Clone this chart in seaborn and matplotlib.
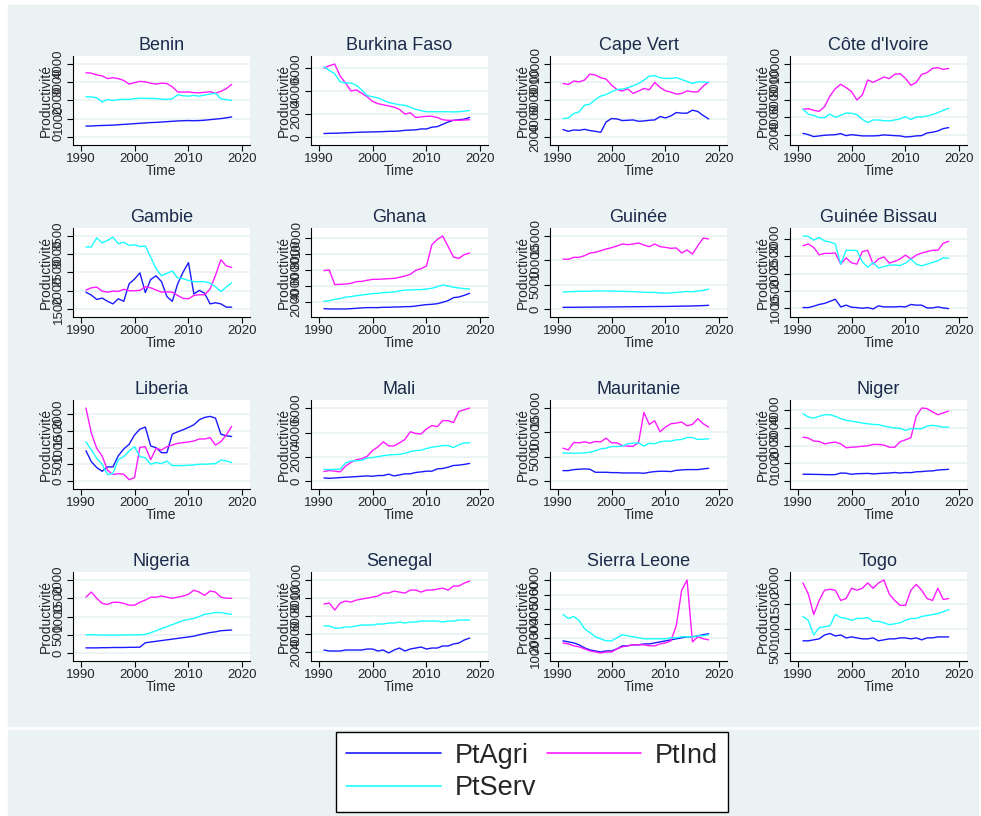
import matplotlib
matplotlib.use("Agg")
import matplotlib.pyplot as plt
from matplotlib.lines import Line2D
from matplotlib.patches import Rectangle
import seaborn as sns
import pandas as pd

# years covered by every series
years = list(range(1991, 2019))

countries = ["Benin", "Burkina Faso", "Cape Vert", "Côte d'Ivoire",
             "Gambie", "Ghana", "Guinée", "Guinée Bissau",
             "Liberia", "Mali", "Mauritanie", "Niger",
             "Nigeria", "Senegal", "Sierra Leone", "Togo"]

# productivity per sector
benin_agri = [600, 600, 620, 630, 640, 650, 670, 690, 710, 730, 750, 770, 790, 800, 820, 840, 860, 880, 890, 900, 890, 900, 920, 950, 980, 1010, 1050, 1100]
benin_ind = [3520, 3500, 3400, 3350, 3200, 3250, 3200, 3100, 2900, 2980, 3050, 3020, 2950, 2900, 2950, 2930, 2750, 2470, 2460, 2470, 2430, 2420, 2450, 2480, 2400, 2500, 2650, 2880]
benin_serv = [2200, 2200, 2150, 1920, 2050, 2000, 2050, 2060, 2060, 2100, 2130, 2120, 2110, 2110, 2080, 2060, 2100, 2310, 2260, 2240, 2280, 2240, 2300, 2350, 2400, 2100, 2050, 2000]
benin_ticks = [0, 1000, 2000, 3000, 4000]

burkina_agri = [300, 320, 330, 340, 360, 380, 400, 420, 430, 440, 450, 470, 490, 500, 520, 580, 600, 620, 700, 700, 850, 900, 1100, 1300, 1450, 1500, 1550, 1700]
burkina_ind = [6000, 6200, 6350, 5300, 4700, 4000, 4100, 3800, 3500, 3100, 2900, 2800, 2700, 2600, 2400, 2000, 2100, 1700, 1750, 1800, 1800, 1700, 1500, 1450, 1450, 1450, 1480, 1500]
burkina_serv = [6100, 5800, 5500, 4800, 4700, 4700, 4500, 4100, 3600, 3500, 3400, 3200, 3000, 2900, 2800, 2750, 2600, 2400, 2300, 2200, 2200, 2200, 2200, 2200, 2180, 2200, 2250, 2300]
burkina_ticks = [0, 2000, 4000, 6000]

cape_agri = [2810, 2620, 2770, 2730, 2840, 2700, 2620, 2510, 3650, 4020, 3980, 3800, 3830, 3870, 3720, 3760, 3830, 3870, 4240, 4090, 4310, 4680, 4610, 4610, 4940, 4790, 4350, 3980]
cape_ind = [7870, 7760, 8130, 8050, 8240, 8900, 8790, 8500, 8350, 7690, 7210, 7030, 7280, 6770, 7030, 7320, 7170, 7980, 7430, 7060, 6920, 6700, 6770, 7060, 6950, 6950, 7580, 8020]
cape_serv = [4020, 4090, 4570, 4750, 5490, 5600, 6110, 6480, 6660, 6950, 7210, 7250, 7390, 7610, 7870, 8240, 8680, 8720, 8500, 8420, 8420, 8500, 8310, 8090, 7870, 8050, 8020, 7980]
cape_ticks = [2000, 4000, 6000, 8000, 10000]

civ_agri = [2220, 2070, 1850, 1930, 2000, 2040, 2070, 2190, 1960, 2070, 2000, 1930, 1930, 1930, 1960, 2040, 2000, 1960, 1930, 1810, 1850, 1930, 1960, 2260, 2340, 2490, 2750, 2860]
civ_ind = [4920, 4990, 4800, 4690, 5210, 6410, 7230, 7720, 7350, 6900, 5960, 6520, 8210, 7940, 8240, 8540, 8360, 8840, 8920, 8390, 7610, 7940, 8840, 9030, 9510, 9590, 9400, 9510]
civ_serv = [4920, 4360, 4240, 3980, 3980, 4390, 4020, 4240, 4500, 4470, 4320, 3790, 3420, 3720, 3720, 3640, 3610, 3720, 3830, 4090, 3760, 4060, 4060, 4170, 4320, 4540, 4800, 5030]
civ_ticks = [2000, 4000, 6000, 8000, 10000]

gambie_agri = [1960, 1880, 1760, 1800, 1710, 1640, 1780, 1710, 2190, 2320, 2490, 1950, 2310, 2410, 2250, 1840, 1710, 2190, 2510, 2770, 1910, 2010, 1930, 1640, 1670, 1640, 1550, 1550]
gambie_ind = [2020, 2080, 2100, 1990, 1960, 1990, 1980, 2040, 2000, 2000, 2010, 2110, 2080, 2020, 1960, 1970, 1960, 1870, 1790, 1780, 1870, 1890, 1890, 2050, 2420, 2850, 2680, 2640]
gambie_serv = [3200, 3200, 3450, 3310, 3380, 3470, 3290, 3330, 3240, 3260, 3210, 3230, 2920, 2600, 2410, 2480, 2540, 2350, 2330, 2280, 2250, 2250, 2250, 2210, 2110, 1980, 2100, 2220]
gambie_ticks = [1500, 2000, 2500, 3000, 3500]

ghana_agri = [1210, 1170, 1170, 1170, 1170, 1210, 1250, 1300, 1340, 1340, 1340, 1380, 1380, 1420, 1420, 1460, 1460, 1540, 1630, 1710, 1750, 1830, 2000, 2210, 2580, 2660, 2870, 3120]
ghana_ind = [5940, 6020, 4200, 4240, 4280, 4360, 4570, 4610, 4740, 4860, 4860, 4900, 4940, 4980, 5110, 5270, 5480, 5980, 6190, 6520, 9170, 9830, 10250, 8960, 7640, 7470, 7930, 8130]
ghana_serv = [2120, 2210, 2370, 2460, 2660, 2700, 2830, 2910, 2990, 3080, 3120, 3200, 3240, 3290, 3410, 3530, 3530, 3580, 3580, 3660, 3740, 3950, 4160, 4030, 3870, 3780, 3700, 3660]
ghana_ticks = [2000, 4000, 6000, 8000, 10000]

guinee_agri = [340, 340, 350, 360, 370, 380, 390, 400, 410, 420, 430, 440, 450, 460, 470, 480, 490, 500, 510, 520, 540, 560, 580, 600, 620, 650, 700, 750]
guinee_ind = [10270, 10200, 10620, 10620, 10960, 11510, 11650, 11990, 12330, 12600, 12950, 13360, 13220, 13360, 13560, 13150, 12810, 13360, 12810, 12670, 12470, 12540, 11510, 12120, 11300, 13020, 14590, 14390]
guinee_serv = [3490, 3560, 3600, 3630, 3640, 3660, 3680, 3700, 3700, 3680, 3650, 3620, 3600, 3560, 3500, 3450, 3400, 3400, 3300, 3250, 3300, 3400, 3500, 3600, 3550, 3700, 3800, 4100]
guinee_ticks = [0, 5000, 10000, 15000]

bissau_agri = [1020, 1020, 1060, 1110, 1140, 1200, 1260, 1040, 1090, 1030, 1020, 1000, 1020, 980, 1070, 1040, 1040, 1040, 1050, 1040, 1110, 1090, 1090, 1010, 1010, 1040, 1010, 990]
bissau_ind = [2800, 2850, 2750, 2540, 2580, 2580, 2590, 2270, 2450, 2310, 2270, 2630, 2670, 2270, 2420, 2480, 2300, 2350, 2420, 2530, 2420, 2530, 2590, 2630, 2670, 2670, 2870, 2930]
bissau_serv = [3080, 3070, 2960, 3040, 2940, 2910, 2850, 2270, 2670, 2670, 2660, 2340, 2180, 2320, 2160, 2200, 2240, 2250, 2230, 2300, 2420, 2270, 2220, 2270, 2320, 2370, 2450, 2440]
bissau_ticks = [1000, 1500, 2000, 2500, 3000]

liberia_agri = [905, 575, 400, 290, 420, 420, 755, 955, 1095, 1375, 1550, 1610, 1045, 995, 845, 845, 1400, 1470, 1530, 1600, 1680, 1830, 1900, 1930, 1880, 1400, 1350, 1330]
liberia_ind = [2180, 1430, 975, 745, 320, 190, 220, 200, 40, 100, 1005, 1025, 640, 975, 925, 1025, 1075, 1125, 1145, 1165, 1195, 1255, 1255, 1295, 1075, 1175, 1375, 1630]
liberia_serv = [1175, 925, 675, 500, 190, 220, 640, 725, 895, 1025, 725, 695, 500, 550, 520, 595, 460, 460, 460, 470, 480, 500, 500, 510, 520, 625, 600, 550]
liberia_ticks = [0, 500, 1000, 1500, 2000]

mali_agri = [250, 220, 250, 280, 310, 330, 360, 390, 420, 390, 450, 450, 560, 420, 500, 590, 590, 700, 750, 810, 810, 1000, 1030, 1140, 1280, 1310, 1370, 1450]
mali_ind = [780, 865, 810, 750, 1230, 1530, 1760, 1840, 2040, 2510, 2820, 3240, 2900, 2900, 3150, 3430, 4070, 3930, 3880, 4300, 4580, 4490, 4990, 4990, 4830, 5750, 5890, 6030]
mali_serv = [950, 950, 950, 980, 1480, 1650, 1670, 1700, 1900, 1930, 2010, 2090, 2150, 2180, 2200, 2290, 2430, 2510, 2540, 2680, 2790, 2850, 2930, 2930, 2760, 2990, 3150, 3150]
mali_ticks = [0, 2000, 4000, 6000]

maur_agri = [2130, 2130, 2340, 2410, 2480, 2410, 1790, 1790, 1790, 1720, 1720, 1650, 1650, 1650, 1650, 1580, 1790, 1930, 2000, 2000, 1930, 2200, 2270, 2340, 2340, 2340, 2480, 2610]
maur_ind = [6740, 6400, 7910, 7840, 8050, 7770, 8120, 8050, 8810, 7840, 7840, 7290, 7160, 7160, 7840, 14100, 11630, 12380, 10110, 11080, 11760, 11900, 12110, 11350, 11630, 12800, 11760, 11080]
maur_serv = [5780, 5710, 5710, 5710, 5780, 5920, 6190, 6600, 6740, 7090, 7090, 7160, 7640, 7770, 7840, 7160, 7770, 7640, 8050, 8190, 8190, 8460, 8530, 8940, 8940, 8530, 8600, 8670]
maur_ticks = [0, 5000, 10000, 15000]

niger_agri = [380, 380, 375, 370, 360, 355, 360, 450, 440, 380, 410, 420, 430, 400, 420, 440, 450, 480, 450, 480, 470, 520, 530, 560, 570, 620, 640, 660]
niger_ind = [2480, 2430, 2260, 2240, 2100, 2160, 2200, 2100, 1880, 1910, 1930, 1970, 1990, 2070, 2070, 2030, 1910, 1910, 2220, 2330, 2450, 3680, 4130, 4100, 3910, 3750, 3850, 3960]
niger_serv = [3810, 3620, 3560, 3660, 3750, 3750, 3660, 3530, 3430, 3390, 3340, 3280, 3240, 3200, 3190, 3110, 3050, 3000, 2980, 2860, 2960, 2960, 2960, 3110, 3150, 3110, 3050, 3050]
niger_ticks = [0, 1000, 2000, 3000, 4000]

nigeria_agri = [140, 140, 140, 145, 145, 150, 150, 150, 155, 155, 160, 280, 300, 320, 340, 360, 380, 400, 420, 440, 460, 500, 530, 560, 580, 610, 620, 630]
nigeria_ind = [1530, 1670, 1500, 1360, 1330, 1390, 1390, 1360, 1310, 1310, 1390, 1450, 1530, 1530, 1560, 1530, 1500, 1530, 1560, 1610, 1720, 1670, 1580, 1700, 1670, 1530, 1500, 1500]
nigeria_serv = [500, 500, 495, 490, 490, 490, 490, 495, 495, 500, 500, 510, 556, 610, 670, 720, 780, 830, 890, 920, 945, 1000, 1060, 1080, 1110, 1110, 1080, 1060]
nigeria_ticks = [0, 500, 1000, 1500, 2000]

senegal_agri = [2220, 2110, 2110, 2110, 2220, 2220, 2220, 2220, 2330, 2330, 2110, 2220, 1890, 2220, 2440, 2110, 2330, 2440, 2550, 2330, 2440, 2440, 2670, 2670, 2890, 3000, 3330, 3550]
senegal_ind = [7330, 7440, 6660, 7440, 7660, 7550, 7770, 7880, 7990, 8100, 8220, 8550, 8550, 8770, 8660, 8550, 8880, 8880, 8660, 8880, 8880, 8990, 9100, 8880, 9330, 9330, 9660, 9880]
senegal_serv = [4890, 4890, 4660, 4660, 4780, 4780, 4890, 5000, 5000, 5000, 5110, 5110, 5220, 5220, 5330, 5220, 5330, 5330, 5440, 5440, 5440, 5440, 5330, 5440, 5440, 5550, 5550, 5550]
senegal_ticks = [2000, 4000, 6000, 8000, 10000]

sierra_agri = [1830, 1760, 1690, 1560, 1350, 1210, 1140, 1070, 1140, 1140, 1280, 1490, 1490, 1560, 1560, 1620, 1620, 1690, 1760, 1830, 1900, 1970, 2040, 2110, 2110, 2180, 2250, 2320]
sierra_ind = [1690, 1620, 1490, 1420, 1280, 1140, 1070, 1000, 1070, 1070, 1280, 1420, 1490, 1560, 1560, 1560, 1490, 1490, 1620, 1690, 1830, 2870, 5300, 6000, 1760, 2110, 1970, 1900]
sierra_serv = [3640, 3360, 3500, 3220, 2670, 2390, 2110, 1970, 1830, 1830, 2040, 2250, 2180, 2110, 2040, 1970, 1970, 1970, 1970, 1970, 2040, 2040, 2110, 2110, 2110, 2180, 2180, 2250]
sierra_ticks = [1000, 2000, 3000, 4000, 5000, 6000]

togo_agri = [750, 750, 770, 790, 870, 900, 850, 870, 810, 830, 810, 790, 790, 810, 750, 770, 790, 790, 810, 810, 790, 810, 770, 810, 810, 830, 830, 830]
togo_ind = [1940, 1710, 1290, 1580, 1790, 1810, 1790, 1580, 1620, 1830, 1790, 1830, 1940, 1830, 1940, 2000, 1710, 1580, 1480, 1480, 1790, 1910, 1790, 1620, 1580, 1830, 1600, 1620]
togo_serv = [1250, 1170, 870, 1020, 1040, 1060, 1290, 1230, 1210, 1170, 1210, 1210, 1230, 1150, 1150, 1120, 1080, 1100, 1120, 1170, 1210, 1210, 1250, 1270, 1290, 1310, 1350, 1390]
togo_ticks = [500, 1000, 1500, 2000]

panels = [
    (benin_agri, benin_ind, benin_serv, benin_ticks),
    (burkina_agri, burkina_ind, burkina_serv, burkina_ticks),
    (cape_agri, cape_ind, cape_serv, cape_ticks),
    (civ_agri, civ_ind, civ_serv, civ_ticks),
    (gambie_agri, gambie_ind, gambie_serv, gambie_ticks),
    (ghana_agri, ghana_ind, ghana_serv, ghana_ticks),
    (guinee_agri, guinee_ind, guinee_serv, guinee_ticks),
    (bissau_agri, bissau_ind, bissau_serv, bissau_ticks),
    (liberia_agri, liberia_ind, liberia_serv, liberia_ticks),
    (mali_agri, mali_ind, mali_serv, mali_ticks),
    (maur_agri, maur_ind, maur_serv, maur_ticks),
    (niger_agri, niger_ind, niger_serv, niger_ticks),
    (nigeria_agri, nigeria_ind, nigeria_serv, nigeria_ticks),
    (senegal_agri, senegal_ind, senegal_serv, senegal_ticks),
    (sierra_agri, sierra_ind, sierra_serv, sierra_ticks),
    (togo_agri, togo_ind, togo_serv, togo_ticks),
]

colors = {"PtAgri": "#1a1aff", "PtInd": "#ff1aff", "PtServ": "#1affff"}
bg = "#eaf2f3"
title_col = "#1c2a4a"

sns.set_theme(style="white")
plt.rcParams["font.family"] = ["Liberation Sans", "DejaVu Sans"]

W, H = 981, 816
fig = plt.figure(figsize=(W / 100, H / 100), dpi=100)
fig.patch.set_facecolor("white")
# grey graph region + legend region behind everything
fig.patches.append(Rectangle((8 / W, 1 - 726 / H), 970 / W, 721 / H,
                             transform=fig.transFigure, color=bg, zorder=-5))
fig.patches.append(Rectangle((8 / W, 0), 970 / W, (H - 730) / H,
                             transform=fig.transFigure, color=bg, zorder=-5))

lefts = [73, 311, 550, 790]
tops = [56, 228, 400, 572]
pw, ph = 177, 89

for i, (name, (agri, ind, serv, ticks)) in enumerate(zip(countries, panels)):
    r, c = divmod(i, 4)
    ax = fig.add_axes([lefts[c] / W, 1 - (tops[r] + ph) / H, pw / W, ph / H])
    df = pd.DataFrame({"Time": years * 3,
                       "val": agri + ind + serv,
                       "serie": ["PtAgri"] * 28 + ["PtInd"] * 28 + ["PtServ"] * 28})
    ax.set_facecolor("white")
    ax.set_yticks(ticks)
    ax.yaxis.grid(True, color=bg, lw=1.2, zorder=0)
    ax.xaxis.grid(False)
    sns.lineplot(data=df, x="Time", y="val", hue="serie", palette=colors,
                 ax=ax, legend=False, lw=1.0, zorder=3)
    lo = min(ticks[0], min(agri + ind + serv))
    hi = max(ticks[-1], max(agri + ind + serv))
    pad = 0.11 * (hi - lo)
    ax.set_ylim(lo - pad, hi + pad)
    ax.set_xlim(1988.6, 2021.4)
    ax.set_xticks([1990, 2000, 2010, 2020])
    ax.set_yticks(ticks)
    ax.set_yticklabels([str(t) for t in ticks], rotation=90, va="center")
    for s in ["top", "right"]:
        ax.spines[s].set_visible(False)
    for s in ["left", "bottom"]:
        ax.spines[s].set_color("black")
        ax.spines[s].set_linewidth(0.8)
    ax.tick_params(axis="both", direction="out", length=4, width=0.8,
                   color="black", labelsize=9.5, pad=2, left=True, bottom=True)
    ax.set_title(name, fontsize=13, color=title_col, pad=4)
    ax.set_xlabel("Time", fontsize=10, labelpad=-1)
    ax.set_ylabel("Productivité", fontsize=10, labelpad=0)

handles = [Line2D([], [], color=colors[k], lw=1.2) for k in ["PtAgri", "PtServ", "PtInd"]]
leg = fig.legend(handles, ["PtAgri", "PtServ", "PtInd"], ncol=2, loc="center",
                 bbox_to_anchor=(532 / W, 1 - 772 / H), fontsize=19.5,
                 handlelength=3.5, handletextpad=0.5, columnspacing=0.4,
                 labelspacing=0.25, borderpad=0.38, frameon=True, fancybox=False,
                 framealpha=1)
leg.get_frame().set_edgecolor("black")
leg.get_frame().set_linewidth(1.0)
leg.get_frame().set_facecolor("white")

fig.savefig("out.png", dpi=100, facecolor=fig.get_facecolor())
